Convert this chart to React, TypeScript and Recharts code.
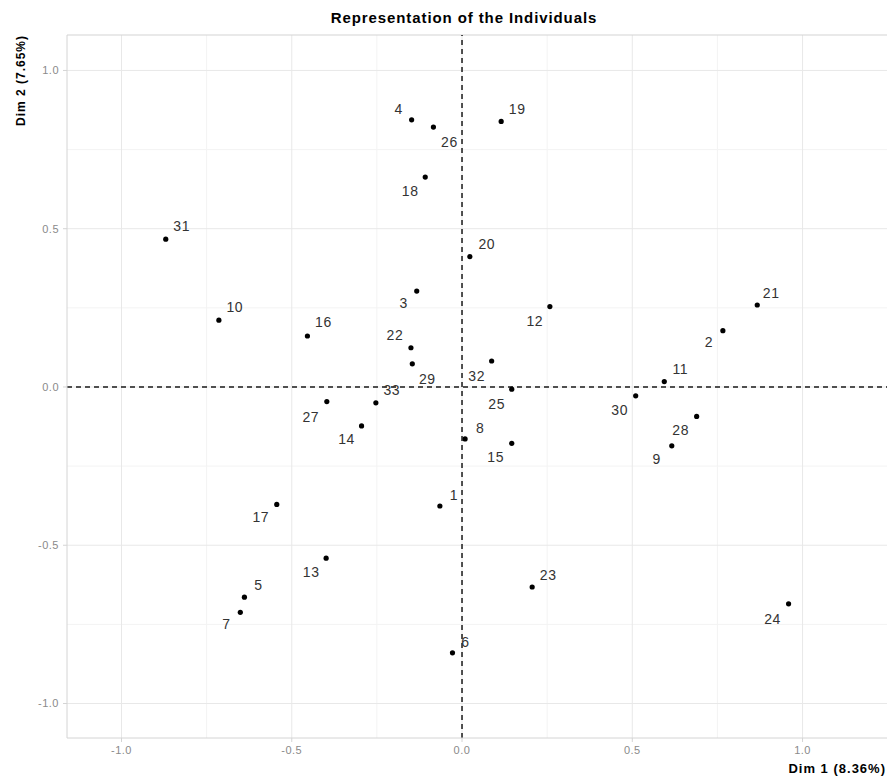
import { ReferenceLine, Scatter, ScatterChart, XAxis, YAxis } from "recharts";

// individual ids and their coordinates on the first two dimensions
const names = ["1","2","3","4","5","6","7","8","9","10","11","12","13","14","15","16","17","18","19","20","21","22","23","24","25","26","27","28","29","30","31","32","33"];
const dim1 = [-0.065, 0.766, -0.133, -0.148, -0.639, -0.028, -0.651, 0.009, 0.616, -0.714, 0.594, 0.258, -0.399, -0.295, 0.146, -0.454, -0.544, -0.108, 0.115, 0.023, 0.867, -0.150, 0.206, 0.959, 0.146, -0.084, -0.397, 0.689, -0.146, 0.510, -0.870, 0.087, -0.253];
const dim2 = [-0.376, 0.178, 0.303, 0.844, -0.664, -0.840, -0.712, -0.164, -0.186, 0.211, 0.017, 0.254, -0.541, -0.123, -0.178, 0.161, -0.371, 0.663, 0.839, 0.412, 0.259, 0.124, -0.632, -0.685, -0.007, 0.821, -0.046, -0.093, 0.073, -0.028, 0.467, 0.082, -0.050];

const majorTicks = [-1, -0.5, 0, 0.5, 1];
const minorX = [-0.75, -0.25, 0.25, 0.75, 1.25];
const minorY = [-0.75, -0.25, 0.25, 0.75];

// repel-style label offsets (px) from each dot
const labelOffset: Record<string, [number, number]> = {
  "1": [14, -11], "2": [-14, 11], "3": [-13, 12], "4": [-13, -11], "5": [14, -12],
  "6": [13, -11], "7": [-14, 12], "8": [15, -11], "9": [-15, 13], "10": [16, -13],
  "11": [16, -13], "12": [-15, 14], "13": [-15, 14], "14": [-15, 13], "15": [-16, 14],
  "16": [16, -14], "17": [-16, 13], "18": [-15, 14], "19": [16, -12], "20": [17, -13],
  "21": [14, -12], "22": [-16, -13], "23": [16, -12], "24": [-16, 15], "25": [-15, 15],
  "26": [16, 15], "27": [-16, 15], "28": [-16, 14], "29": [15, 15], "30": [-16, 14],
  "31": [16, -13], "32": [-15, 15], "33": [16, -13],
};

const points = names.map((name, i) => ({ name, x: dim1[i], y: dim2[i] }));

const X_DOMAIN: [number, number] = [-1.16, 1.248];
const Y_DOMAIN: [number, number] = [-1.109, 1.112];
const FONT = "'Liberation Sans', Arial, sans-serif";
const fmt = (v: number) => v.toFixed(1);

const tickStyle = { fill: "#8a8a8a", fontSize: 11, fontFamily: FONT, letterSpacing: 0.5 };

function IndividualDot(props: any) {
  const { cx, cy, payload } = props;
  const [dx, dy] = labelOffset[payload.name] || [12, -12];
  return (
    <g>
      <circle cx={cx} cy={cy} r={2.6} fill="#000" />
      <text
        x={cx + dx}
        y={cy + dy}
        textAnchor="middle"
        dominantBaseline="central"
        fontSize={14}
        fontFamily={FONT}
        letterSpacing={0.6}
        fill="#333"
      >
        {payload.name}
      </text>
    </g>
  );
}

export default function App() {
  return (
    <div style={{ position: "absolute", left: 0, top: 0, width: 887, height: 778, background: "#fff" }}>
      <ScatterChart width={887} height={778} margin={{ top: 35, right: 0, bottom: 0, left: 0 }}>
        {minorX.map((v) => (
          <ReferenceLine key={"mx" + v} x={v} stroke="#f3f3f3" strokeWidth={1} />
        ))}
        {minorY.map((v) => (
          <ReferenceLine key={"my" + v} y={v} stroke="#f3f3f3" strokeWidth={1} />
        ))}
        {majorTicks.map((v) => (
          <ReferenceLine key={"gx" + v} x={v} stroke="#e8e8e8" strokeWidth={1} />
        ))}
        {majorTicks.map((v) => (
          <ReferenceLine key={"gy" + v} y={v} stroke="#e8e8e8" strokeWidth={1} />
        ))}
        <ReferenceLine y={Y_DOMAIN[1]} stroke="#d4d4d4" strokeWidth={1.2} />
        <XAxis
          type="number"
          dataKey="x"
          domain={X_DOMAIN}
          ticks={majorTicks}
          tickFormatter={fmt}
          allowDataOverflow
          height={40}
          stroke="#d4d4d4"
          tickSize={4}
          tickMargin={4}
          tick={tickStyle}
        />
        <YAxis
          type="number"
          dataKey="y"
          domain={Y_DOMAIN}
          ticks={majorTicks}
          tickFormatter={fmt}
          allowDataOverflow
          width={67}
          stroke="#d4d4d4"
          tickSize={4}
          tickMargin={4}
          tick={tickStyle}
        />
        <ReferenceLine x={0} stroke="#1a1a1a" strokeWidth={1.5} strokeDasharray="5 4" />
        <ReferenceLine y={0} stroke="#1a1a1a" strokeWidth={1.5} strokeDasharray="5 4" />
        <Scatter data={points} shape={IndividualDot} isAnimationActive={false} />
        <text x={464} y={17} textAnchor="middle" dominantBaseline="central" fontSize={15} fontWeight="bold" fontFamily={FONT} letterSpacing={0.9} fill="#000">
          Representation of the Individuals
        </text>
        <text x={886} y={768} textAnchor="end" dominantBaseline="central" fontSize={13} fontWeight="bold" fontFamily={FONT} letterSpacing={1} fill="#000">
          Dim 1 (8.36%)
        </text>
        <text
          x={21}
          y={35}
          transform="rotate(-90, 21, 35)"
          textAnchor="end"
          dominantBaseline="central"
          fontSize={12}
          fontWeight="bold"
          fontFamily={FONT}
          letterSpacing={1}
          fill="#000"
        >
          Dim 2 (7.65%)
        </text>
      </ScatterChart>
    </div>
  );
}
